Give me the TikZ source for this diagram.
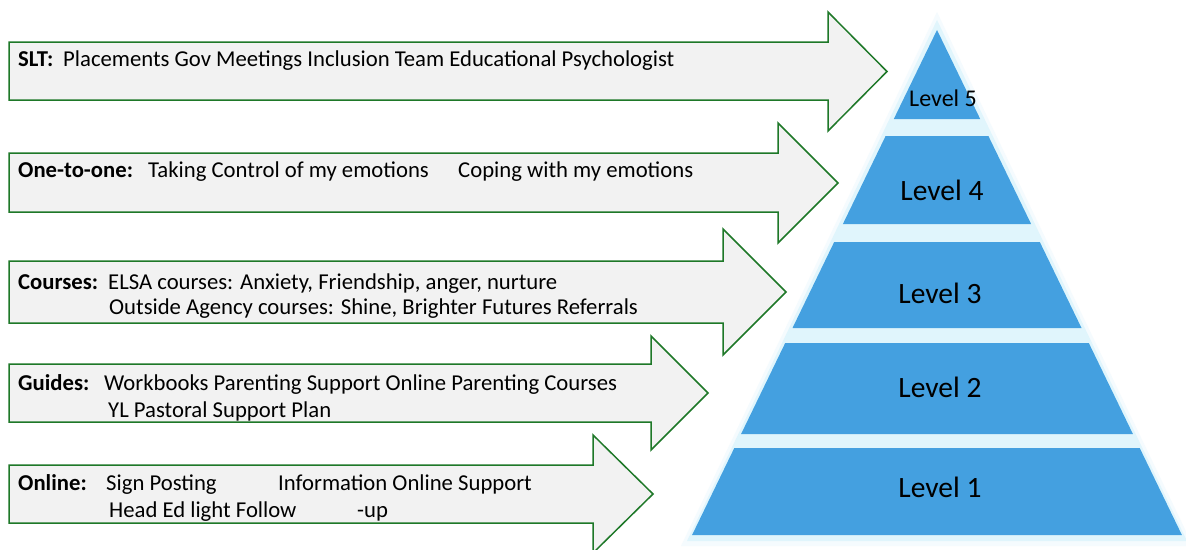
\documentclass[tikz,border=0pt]{standalone}
\usepackage{fontspec}
\setmainfont{Carlito}
\definecolor{arrowfill}{RGB}{242,242,242}
\definecolor{arrowline}{RGB}{30,120,40}
\definecolor{pyrblue}{RGB}{68,160,224}
\definecolor{halo}{RGB}{224,245,252}
\definecolor{halofaint}{RGB}{245,251,254}
\tikzset{
  arrowshape/.style={fill=arrowfill, draw=arrowline, line width=1.5pt, line join=miter},
  lvl/.style={fill=pyrblue},
  lbl/.style={anchor=base west, inner sep=0pt, font=\fontsize{22.7}{27}\selectfont},
  lvltext/.style={inner sep=0pt, font=\fontsize{29.5}{34}\selectfont},
  lvltextsmall/.style={inner sep=0pt, font=\fontsize{24}{28}\selectfont}
}
\begin{document}
\begin{tikzpicture}[x=1pt,y=-1pt]
\clip (0,0) rectangle (1186,549);
\fill[white] (0,0) rectangle (1186,549);

% pyramid halo
\fill[halofaint] (937,12) -- (1193,546) -- (681,546) -- cycle;
\fill[halo] (937,20) -- (1187,541) -- (687,541) -- cycle;

% pyramid levels
\fill[lvl] (937,30) -- (980.2,119) -- (893.8,119) -- cycle;
\fill[lvl] (885.6,136) -- (988.4,136) -- (1031.1,224) -- (842.9,224) -- cycle;
\fill[lvl] (834.2,242) -- (1039.8,242) -- (1081.5,328) -- (792.5,328) -- cycle;
\fill[lvl] (785.2,343) -- (1088.8,343) -- (1132.9,434) -- (741.1,434) -- cycle;
\fill[lvl] (734.3,448) -- (1139.7,448) -- (1181.9,535) -- (692.1,535) -- cycle;

\node[lvltextsmall] (lv5) at (943,98) {Level 5};
\node[lvltext] (lv4) at (942,190) {Level 4};
\node[lvltext] (lv3) at (940,293) {Level 3};
\node[lvltext] (lv2) at (940,387) {Level 2};
\node[lvltext] (lv1) at (940,487) {Level 1};

% arrows
\draw[arrowshape] (9,42) -- (828,42) -- (828,12) -- (887,71.5) -- (828,131) -- (828,100) -- (9,100) -- cycle;
\draw[arrowshape] (9,153) -- (778,153) -- (778,123) -- (838,183) -- (778,243) -- (778,212) -- (9,212) -- cycle;
\draw[arrowshape] (9,261) -- (723,261) -- (723,229) -- (786,292) -- (723,355) -- (723,323) -- (9,323) -- cycle;
\draw[arrowshape] (9,364) -- (651,364) -- (651,336) -- (708,393) -- (651,450) -- (651,422) -- (9,422) -- cycle;
\draw[arrowshape] (9,465) -- (593,465) -- (593,435) -- (653,494) -- (593,553) -- (593,523) -- (9,523) -- cycle;

% arrow texts
\node[lbl] (slt) at (18,66) {\textbf{SLT:}};
\node[lbl] (sltt) at (63,66) {Placements Gov Meetings Inclusion Team Educational Psychologist};

\node[lbl] (one) at (18,177) {\textbf{One-to-one:}};
\node[lbl] (onea) at (148,177) {Taking Control of my emotions};
\node[lbl] (oneb) at (458,177) {Coping with my emotions};

\node[lbl] (crs) at (18,289) {\textbf{Courses:}};
\node[lbl] (crsa) at (108,289) {ELSA courses: Anxiety, Friendship, anger, nurture};
\node[lbl] (crsb) at (109,314) {Outside Agency courses: Shine, Brighter Futures Referrals};

\node[lbl] (gd) at (18,390) {\textbf{Guides:}};
\node[lbl] (gda) at (104,390) {Workbooks Parenting Support Online Parenting Courses};
\node[lbl] (gdb) at (108,417) {YL Pastoral Support Plan};

\node[lbl] (onl) at (18,490) {\textbf{Online:}};
\node[lbl] (onla) at (106,490) {Sign Posting};
\node[lbl] (onlb) at (278,490) {Information Online Support};
\node[lbl] (onlc) at (109,517) {Head Ed light Follow};
\node[lbl] (onld) at (357,517) {-up};
\end{tikzpicture}
\end{document}
